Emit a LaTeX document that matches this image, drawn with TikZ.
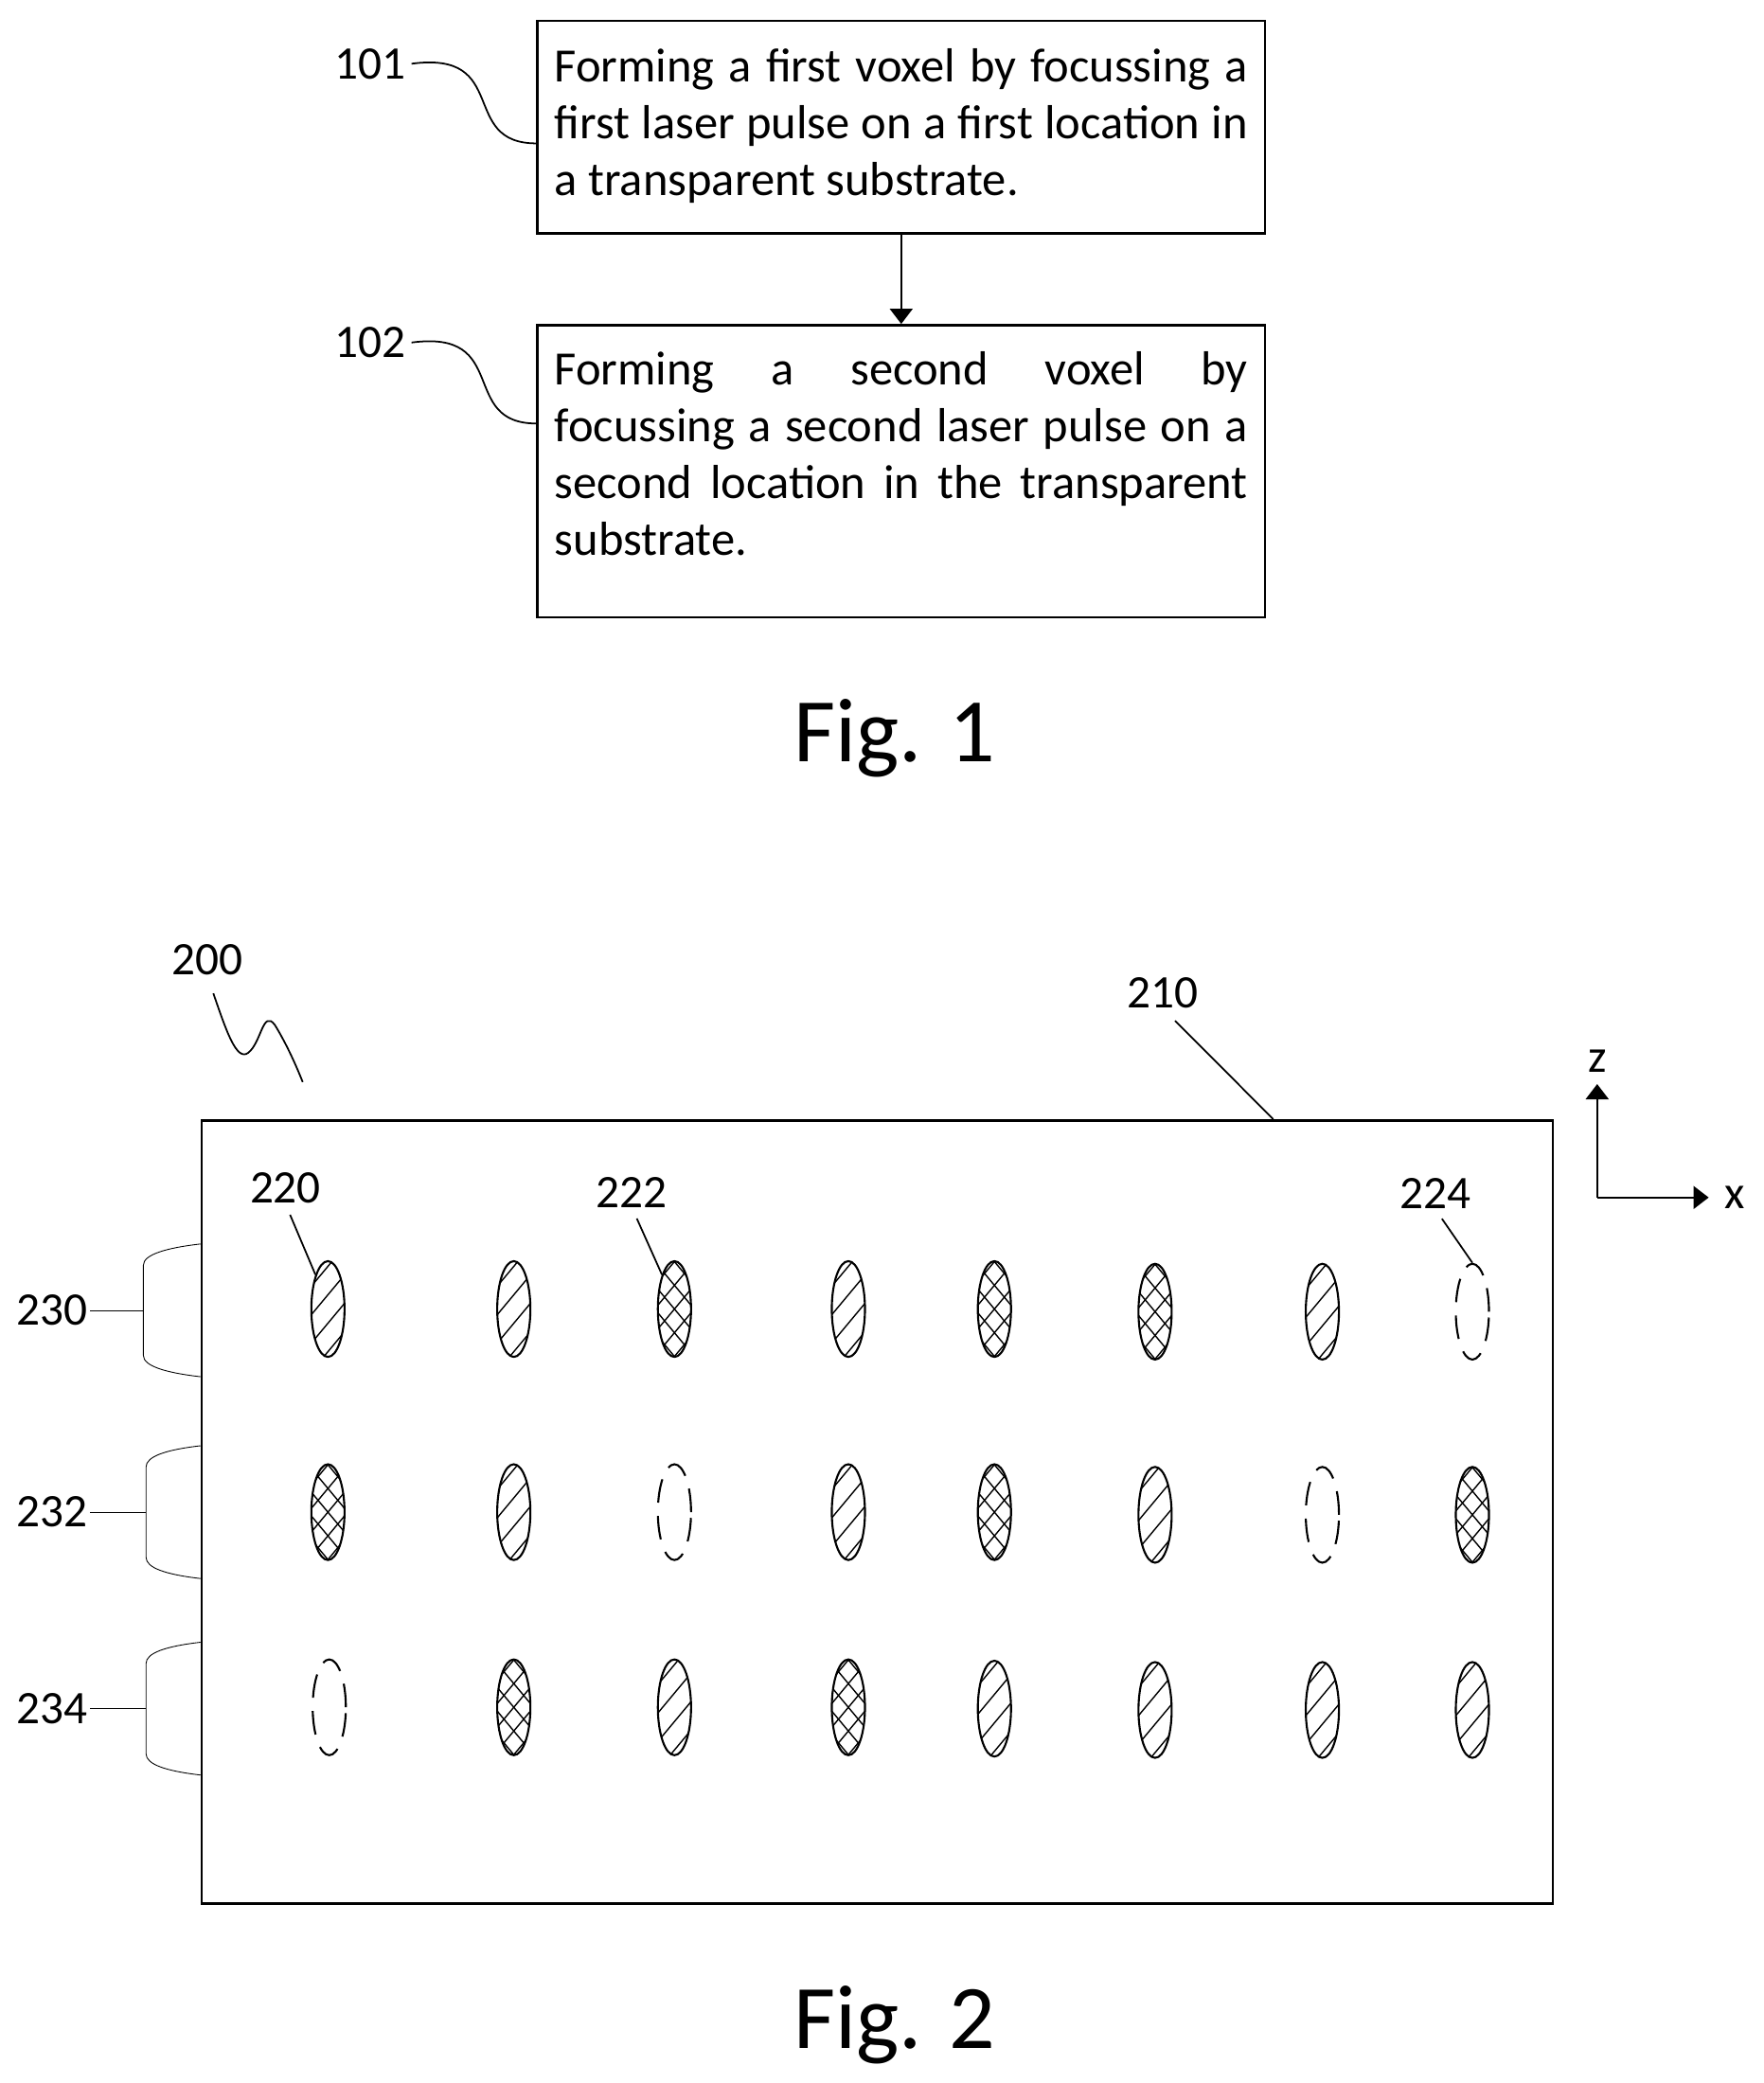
\documentclass[tikz,border=0pt]{standalone}
\usepackage{fontspec}
\setmainfont{Carlito}
\usetikzlibrary{arrows.meta,shapes.geometric}
\tikzset{
  tag/.style={inner sep=0pt, font=\fontsize{28}{33}\selectfont},
  figtag/.style={inner sep=0pt, font=\fontsize{54.5}{66}\selectfont},
  stepbox/.style={draw, line width=1.4pt, anchor=north west, inner xsep=3.6mm, inner ysep=0pt,
    text width=146.2mm, minimum width=153.4mm, align=justify, font=\fontsize{28.7}{34.2}\selectfont},
  leader/.style={line width=1pt},
  bracket/.style={line width=0.5pt},
  flow/.style={line width=0.9pt, -{Triangle[length=3.2mm,width=4.8mm]}},
  axis/.style={line width=1.3pt, -{Triangle[length=3.2mm,width=4.8mm]}},
  hatchline/.style={line width=0.8pt},
  voxel/.style={draw, ellipse, inner sep=0pt, minimum width=7mm, minimum height=20.2mm, line width=1.2pt},
  hatched/.style={voxel, path picture={
    \foreach \hy in {-9,-3,3,9}
      \draw[hatchline] ([yshift=\hy mm]path picture bounding box.center) ++(-5mm,-6mm) -- ++(10mm,12mm);}},
  crossed/.style={voxel, path picture={
    \foreach \hy in {-15,-10,...,15} {
      \draw[hatchline] ([yshift=\hy mm]path picture bounding box.center) ++(-5mm,-6mm) -- ++(10mm,12mm);
      \draw[hatchline] ([yshift=\hy mm]path picture bounding box.center) ++(-5mm,6mm) -- ++(10mm,-12mm);}}},
  missing/.style={voxel, dash pattern=on 5mm off 2.8mm},
}

\begin{document}
\begin{tikzpicture}[x=0.28mm,y=-0.28mm]
%      \draw [help lines, opacity=0.5] (0,0) grid[step=100] (1331,1572);
      \useasboundingbox (0,0) rectangle (1328,1569);

      % Fig. 1
      \node [stepbox, minimum height=44.8mm] (box1) at (404,15) {Forming a first voxel by focussing a\linebreak first laser pulse on a first location in\linebreak a transparent substrate.\\[-9.8mm] \mbox{}};
      \node [stepbox, minimum height=61.6mm] (box2) at (404,244) {Forming a second voxel by\linebreak focussing a second laser pulse on a\linebreak second location in the transparent\linebreak substrate.\\[-4.5mm] \mbox{}};
      \draw [flow] (box1) -- (box2);

      \node [tag] (n101) at (279,48) {101};
      \node [tag] (n102) at (279,258) {102};
      \coordinate (c101) at (404,108);
      \coordinate (c102) at (404,319);
      \draw [leader] (n101.east) ++(4,0) .. controls (385,38) and (345,108) .. (c101);
      \draw [leader] (n102.east) ++(4,0) .. controls (385,248) and (345,319) .. (c102);
      \node [figtag] (fig1) at (674,556) {Fig. 1};

      % Fig. 2
      \node [draw, line width=1.4pt, anchor=north west, inner sep=0pt, minimum width=285mm, minimum height=165.2mm] (substrate) at (151,843) {};
      \node [tag] (n200) at (156,723) {200};
      \node [tag] (n210) at (876,748) {210};
      \coordinate (c200) at (228,815);
      \coordinate (c210) at (959,843);
      \draw [leader, shorten <=4mm] (n200.south) .. controls (170,775) and (178,800) .. (187,793) .. controls (197,785) and (198,760) .. (207,772) .. controls (215,785) and (222,800) .. (c200);
      \draw [leader, shorten <=3.6mm] (n210.south) -- (c210);

      \foreach \n/\x/\y/\k in {
        a1/247/986/hatched, a2/387/986/hatched, a3/508/986/crossed, a4/639/986/hatched,
        a5/749/986/crossed, a6/870/988/crossed, a7/996/988/hatched, a8/1109/988/missing,
        b1/247/1139/crossed, b2/387/1139/hatched, b3/508/1139/missing, b4/639/1139/hatched,
        b5/749/1139/crossed, b6/870/1141/hatched, b7/996/1141/missing, b8/1109/1141/crossed,
        c1/248/1286/missing, c2/387/1286/crossed, c3/508/1286/hatched, c4/639/1286/crossed,
        c5/749/1287/hatched, c6/870/1288/hatched, c7/996/1288/hatched, c8/1109/1288/hatched}
        \node [\k] (\n) at (\x,\y) {};

      \node [tag] (n220) at (215,895) {220};
      \node [tag] (n222) at (476,898) {222};
      \node [tag] (n224) at (1081,899) {224};
      \draw [leader, shorten <=2.5mm] (n220.south) -- (a1.110);
      \draw [leader, shorten <=2.5mm] (n222.south) -- (a3.110);
      \draw [leader, shorten <=2.5mm] (n224.south) -- (a8.north);

      \foreach \t/\x/\m in {230/108/987, 232/110/1139, 234/110/1287} {
        \node [tag] (n\t) at (39,\m) {\t};
        \coordinate (b\t) at (\x,\m);
        \draw [bracket] (151,\m-50) .. controls (125,\m-47) and (\x,\m-42) .. (\x,\m-34) -- (\x,\m+34) .. controls (\x,\m+42) and (125,\m+47) .. (151,\m+50);
        \draw [bracket] (n\t.east) ++(2,0) -- (b\t);
      }

      % axes
      \coordinate (origin) at (1203,902);
      \node [tag] (nz) at (1203,799) {z};
      \node [tag] (nx) at (1307,902) {x};
      \draw [axis, shorten >=2.5mm] (origin) -- (nz.south);
      \draw [axis, shorten >=3.4mm] (origin) -- (nx.west);

      \node [figtag] (fig2) at (674,1525) {Fig. 2};
\end{tikzpicture}
\end{document}
